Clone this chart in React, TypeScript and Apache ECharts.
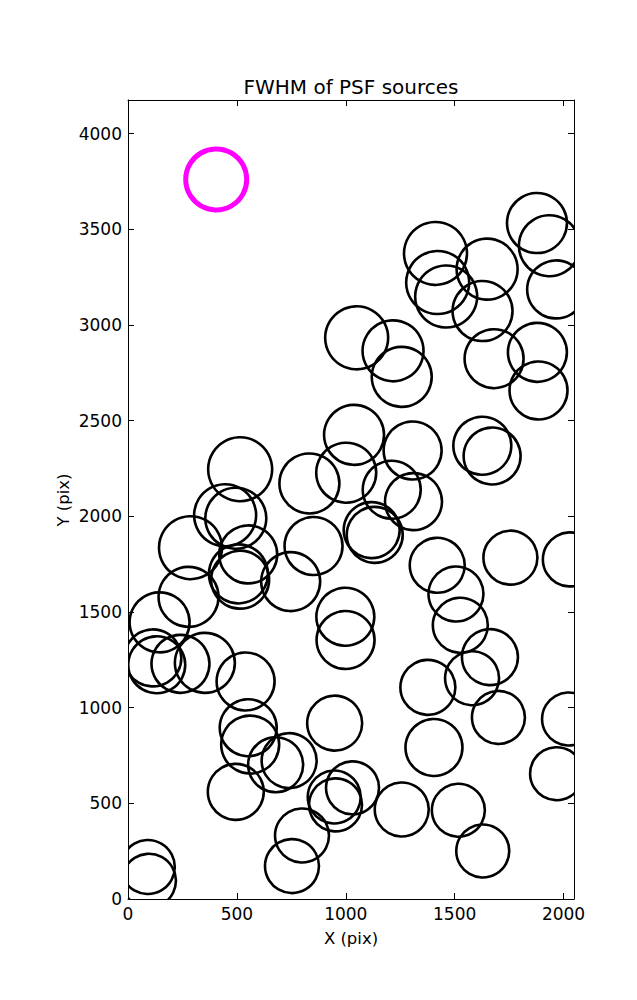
import React, { useEffect, useRef } from "react";
import * as echarts from "echarts";

// Source positions (detector pixels) and FWHM (arbitrary units, marker scale)
const srcX = [1878, 1935, 1966, 1412, 1422, 1461, 1649, 1628, 1050, 1217, 1257, 1681, 1880, 1885, 1038, 1002, 1307, 1211, 1311, 1119, 1133, 1627, 1672, 515, 446, 495, 287, 552, 507, 515, 278, 145, 833, 747, 852, 998, 999, 1420, 1756, 2029, 1506, 1526, 1662, 1580, 1377, 1701, 2023, 1968, 1405, 1257, 1517, 1629, 949, 1031, 947, 953, 540, 552, 561, 678, 740, 495, 799, 753, 91, 96, 114, 132, 241, 353];
const srcY = [3533, 3414, 3186, 3374, 3222, 3149, 3292, 3073, 2933, 2865, 2729, 2824, 2857, 2658, 2426, 2228, 2344, 2139, 2077, 1928, 1903, 2369, 2315, 2246, 2006, 1990, 1836, 1801, 1699, 1669, 1579, 1446, 2172, 1659, 1845, 1475, 1354, 1744, 1784, 1775, 1594, 1431, 1264, 1154, 1106, 949, 941, 655, 792, 468, 464, 251, 919, 581, 533, 492, 1137, 895, 807, 702, 723, 560, 332, 172, 167, 100, 1260, 1224, 1229, 1234];
const srcFwhm = [3.0, 3.05, 2.9, 3.15, 3.15, 3.1, 3.05, 3.0, 3.15, 3.05, 3.0, 2.95, 2.95, 2.9, 3.0, 3.0, 2.9, 2.9, 2.85, 2.8, 2.8, 2.9, 2.85, 3.2, 3.1, 3.05, 3.15, 2.9, 2.95, 2.9, 3.0, 3.0, 3.0, 2.95, 2.9, 2.9, 2.9, 2.75, 2.7, 2.7, 2.75, 2.75, 2.8, 2.7, 2.75, 2.65, 2.65, 2.65, 2.85, 2.7, 2.65, 2.65, 2.75, 2.65, 2.65, 2.65, 2.9, 2.85, 2.9, 2.75, 2.75, 2.8, 2.7, 2.7, 2.7, 2.7, 2.85, 2.85, 2.9, 3.0];

// Reference (median FWHM) marker
const refX = [405];
const refY = [3761];
const refFwhm = [3.05];

const X_MAX = 2048;
const Y_MAX = 4176;
const TICK_STEP = 500;

const FONT = "DejaVu Sans";

export default function App() {
  const ref = useRef<HTMLDivElement>(null);

  useEffect(() => {
    if (!ref.current) return;
    const chart = echarts.init(ref.current, undefined, { renderer: "svg" });

    const srcData = srcX.map((x, i) => [x, srcY[i], srcFwhm[i]]);
    const refData = refX.map((x, i) => [x, refY[i], refFwhm[i]]);

    const circleRender = (color: string, lw: number) => (params: any, api: any) => {
      const c = api.coord([api.value(0), api.value(1)]);
      return {
        type: "circle",
        shape: { cx: c[0], cy: c[1], r: api.value(2) * 10 },
        style: { fill: "none", stroke: color, lineWidth: lw },
      };
    };

    const labelFmt = (v: number) => (v % TICK_STEP === 0 ? String(v) : "");

    const baseX = {
      type: "value",
      min: 0,
      max: X_MAX,
      interval: TICK_STEP,
      splitLine: { show: false },
      axisLine: { show: true, onZero: false, lineStyle: { color: "#000", width: 1 } },
      axisTick: { show: true, inside: true, length: 6, lineStyle: { color: "#000", width: 1 } },
    };
    const baseY = {
      type: "value",
      min: 0,
      max: Y_MAX,
      interval: TICK_STEP,
      splitLine: { show: false },
      axisLine: { show: true, onZero: false, lineStyle: { color: "#000", width: 1 } },
      axisTick: { show: true, inside: true, length: 6, lineStyle: { color: "#000", width: 1 } },
    };

    chart.setOption({
      animation: false,
      backgroundColor: "#fff",
      grid: { left: 128, top: 100, width: 446, height: 799, containLabel: false },
      xAxis: [
        {
          ...baseX,
          position: "bottom",
          axisLabel: {
            show: true,
            formatter: labelFmt,
            showMaxLabel: false,
            color: "#000",
            fontFamily: FONT,
            fontSize: 17,
            margin: 6,
          },
        },
        { ...baseX, position: "top", axisLabel: { show: false } },
      ],
      yAxis: [
        {
          ...baseY,
          position: "left",
          axisLabel: {
            show: true,
            formatter: labelFmt,
            showMaxLabel: false,
            color: "#000",
            fontFamily: FONT,
            fontSize: 17,
            margin: 6,
          },
        },
        { ...baseY, position: "right", axisLabel: { show: false } },
      ],
      graphic: [
        {
          type: "text",
          x: 351,
          y: 87,
          style: {
            text: "FWHM of PSF sources",
            fontFamily: FONT,
            fontSize: 20,
            fill: "#000",
            align: "center",
            verticalAlign: "middle",
          },
        },
        {
          type: "text",
          x: 351,
          y: 938,
          style: {
            text: "X (pix)",
            fontFamily: FONT,
            fontSize: 16.5,
            fill: "#000",
            align: "center",
            verticalAlign: "middle",
          },
        },
        {
          type: "text",
          x: 63,
          y: 500,
          rotation: Math.PI / 2,
          style: {
            text: "Y (pix)",
            fontFamily: FONT,
            fontSize: 16.5,
            fill: "#000",
            align: "center",
            verticalAlign: "middle",
          },
        },
      ],
      series: [
        {
          type: "custom",
          name: "sources",
          xAxisIndex: 0,
          yAxisIndex: 0,
          clip: true,
          data: srcData,
          renderItem: circleRender("#000000", 2.6),
        },
        {
          type: "custom",
          name: "reference",
          xAxisIndex: 0,
          yAxisIndex: 0,
          clip: true,
          data: refData,
          renderItem: circleRender("#ff00ff", 5),
        },
      ],
    });

    return () => chart.dispose();
  }, []);

  return (
    <div
      ref={ref}
      style={{ position: "absolute", left: 0, top: 0, width: 637, height: 1000 }}
    />
  );
}
